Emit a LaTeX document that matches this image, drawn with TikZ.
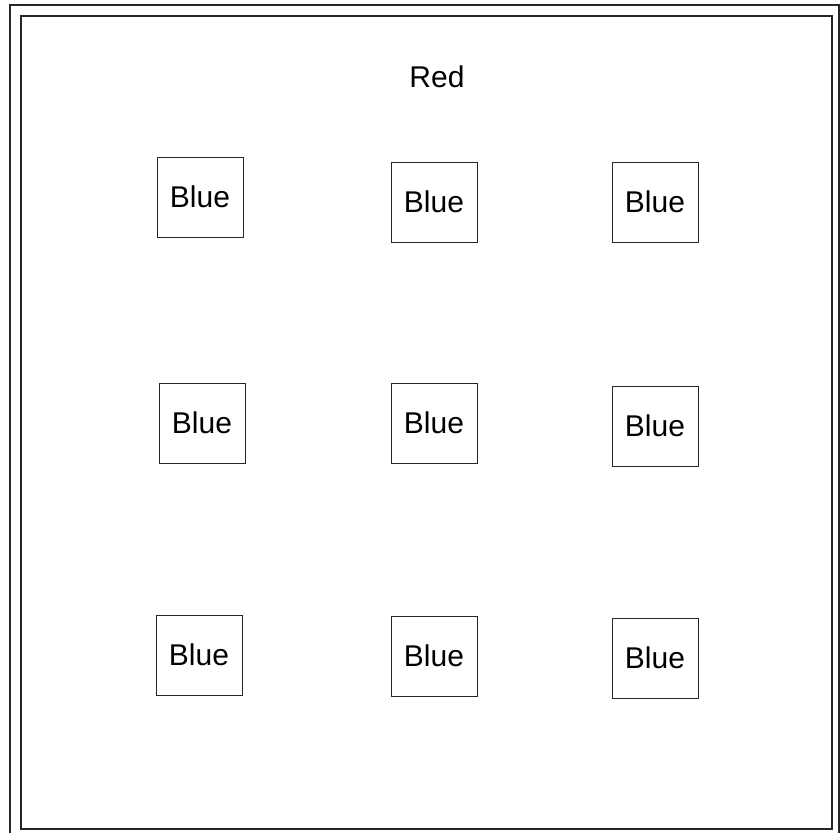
\documentclass[tikz,border=0pt]{standalone}
\usepackage{fontspec}
\setmainfont{Liberation Sans}
\usetikzlibrary{positioning}
\tikzset{
  frame/.style={draw=black!85,line width=1.5pt},
  bluebox/.style={draw=black!85,line width=1pt,minimum width=86pt,
            minimum height=80pt,inner sep=0pt,
            font=\fontsize{30}{35}\selectfont},
  redlabel/.style={font=\fontsize{30}{35}\selectfont},
}

\begin{document}
\begin{tikzpicture}[x=1pt,y=-1pt]
  \useasboundingbox (0,0) rectangle (840,833);
  % outer frame, open at the bottom
  \coordinate (fbl) at (10,833);
  \coordinate (ftl) at (10,5);
  \coordinate (ftr) at (839,5);
  \coordinate (fbr) at (839,833);
  \draw[frame] (fbl) -- (ftl) -- (ftr) -- (fbr);
  \node[frame,minimum width=811pt,minimum height=813pt,inner sep=0pt,
        anchor=north west] (red) at (20,15) {};
  \node[redlabel] (redlbl) at (437,77) {Red};
  % the nine blue boxes
  \foreach \n/\x/\y in {11/200/197, 12/434/202, 13/655/202,
                        21/202/423, 22/434/423, 23/655/426,
                        31/199/655, 32/434/656, 33/655/658}
    \node[bluebox] (b\n) at (\x,\y) {Blue};
\end{tikzpicture}
\end{document}
